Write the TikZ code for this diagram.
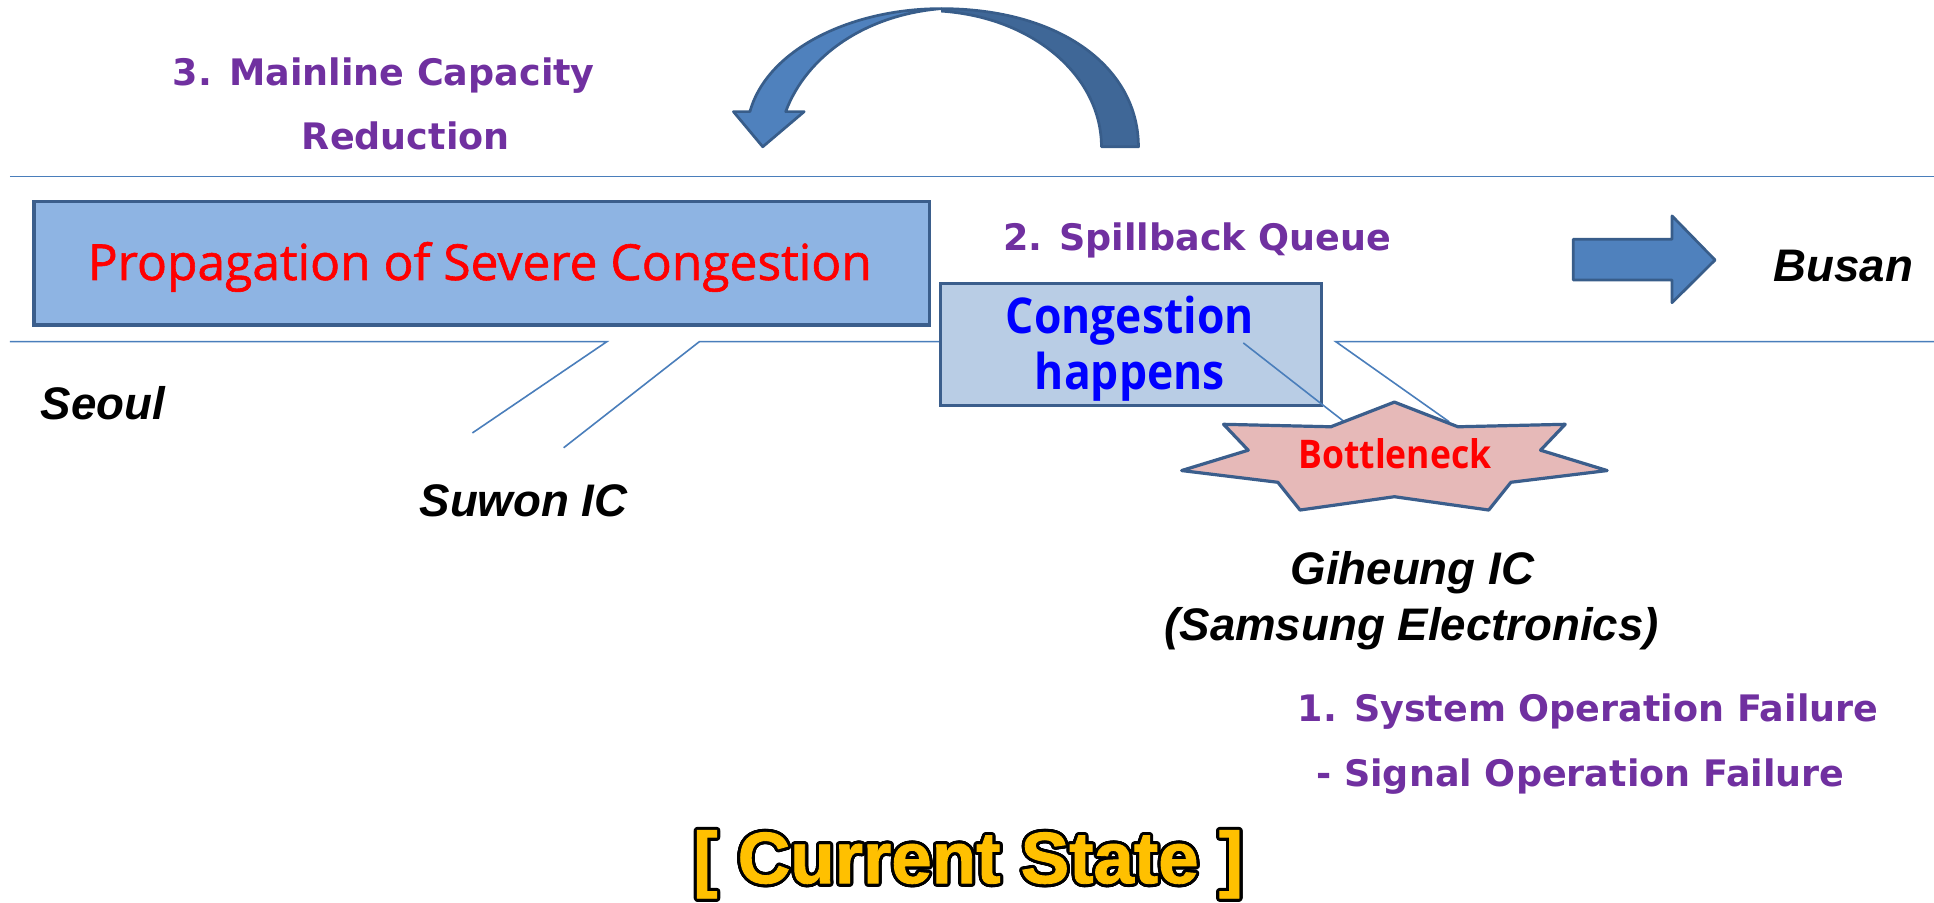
\documentclass[tikz,border=0pt]{standalone}
\usepackage{fontspec}
\setmainfont{Liberation Sans}
\newfontfamily\mgR[FakeBold=1.2]{Open Sans}
\newfontfamily\mgB[FakeStretch=0.9]{Open Sans}
\newfontfamily\thB{DejaVu Sans}
\newfontfamily\arB{Liberation Sans}
\newfontfamily\arH[FakeBold=1.2]{Liberation Sans}
\definecolor{roadblue}{HTML}{4A7EBB}
\definecolor{boxborder}{HTML}{3B5E8C}
\definecolor{propfill}{HTML}{8EB4E3}
\definecolor{congfill}{HTML}{B9CDE5}
\definecolor{starfill}{HTML}{E6B9B8}
\definecolor{lblpurple}{HTML}{7030A0}
\definecolor{gold}{HTML}{FFC000}
\definecolor{arrowlight}{HTML}{4F81BD}
\definecolor{arrowdark}{HTML}{3F6797}
\definecolor{arrowedge}{HTML}{385D8A}
\begin{document}
\begin{tikzpicture}[x=1pt,y=-1pt,
  road/.style={draw=roadblue,line width=1.3pt},
  boxstyle/.style={draw=boxborder,line width=2.8pt,rectangle,inner sep=0pt,anchor=north west},
  purplelbl/.style={text=lblpurple,font=\thB\bfseries\fontsize{29.6}{36}\selectfont,inner sep=0pt,anchor=base west},
  placelbl/.style={text=black,font=\arB\bfseries\itshape\fontsize{37}{44}\selectfont,inner sep=0pt},
  blockarrow/.style={draw=arrowedge,line width=2.2pt,line join=round},
  titlestyle/.style={font=\arH\bfseries\fontsize{59}{66}\selectfont,inner sep=0pt,anchor=base},
]
\useasboundingbox (0,0) rectangle (1568,732);

% road edges
\draw[road] (8,143) -- (1568,143);
\draw[road] (8,277) -- (492,277) -- (383,351);
\draw[road] (457,363) -- (567,277) -- (1010,277);
\draw[road] (1175,342) -- (1083,277) -- (1568,277);

% curved arrow
\fill[arrowdark] (763,7) .. controls (860,7) and (923,55) .. (923,119) -- (893,119) .. controls (893,62) and (838,14) .. (763,9) -- cycle;
\draw[blockarrow] (763,7) .. controls (860,7) and (923,55) .. (923,119) -- (893,119) .. controls (893,62) and (838,14) .. (763,9);
\draw[blockarrow,fill=arrowlight] (608,90.5) .. controls (622,40) and (690,7) .. (763,7) .. controls (702,12) and (654,45) .. (637,90.5) -- (652,90.5) -- (618.4,119) -- (594.6,90.5) -- cycle;

% boxes
\node[boxstyle,fill=propfill,minimum width=726pt,minimum height=100pt] (prop) at (26,162) {};
\node[text=red,font=\mgR\fontsize{40.3}{48}\selectfont,inner sep=0pt,anchor=base] (proptext) at (389,227) {Propagation of Severe Congestion};

\node[boxstyle,fill=congfill,minimum width=309pt,minimum height=99pt] (cong) at (761,228.5) {};
\node[text=blue,font=\mgB\bfseries\fontsize{40}{46}\selectfont,inner sep=0pt,anchor=base] (congA) at (916,270) {Congestion};
\node[text=blue,font=\mgB\bfseries\fontsize{40}{46}\selectfont,inner sep=0pt,anchor=base] (congB) at (916,315.5) {happens};

\draw[road] (1008,278) -- (1090,342);

% bottleneck star
\draw[draw=boxborder,line width=2.6pt,line join=round,fill=starfill]
  (1130.5,326) -- (1182,346) -- (1269,344) -- (1249,365) -- (1303,381.5) -- (1225,391)
  -- (1207,413.5) -- (1130.5,402.7) -- (1054,413.5) -- (1036,391) -- (958,381.5)
  -- (1012,365) -- (992,344) -- (1079,346) -- cycle;
\node[text=red,font=\mgB\bfseries\fontsize{32}{38}\selectfont,inner sep=0pt,anchor=base] (bn) at (1131,379.7) {Bottleneck};

% right block arrow
\draw[blockarrow,fill=arrowlight] (1275.5,194) -- (1355.6,194) -- (1355.6,175) -- (1390.5,210.8)
  -- (1355.6,245.4) -- (1355.6,227) -- (1275.5,227) -- cycle;

% place labels
\node[placelbl,anchor=base west] (seoul) at (33,340) {Seoul};
\node[placelbl,anchor=base west] (suwon) at (340,419) {Suwon IC};
\node[placelbl,anchor=base west] (busan) at (1437.6,228.4) {Busan};
\node[placelbl,anchor=base] (giheung) at (1145,474) {Giheung IC};
\node[placelbl,anchor=base] (samsung) at (1144.5,519) {(Samsung Electronics)};

% purple labels
\node[purplelbl] (l3a) at (140,69.7) {3. Mainline Capacity};
\node[purplelbl] (l3b) at (244.6,121.6) {Reduction};
\node[purplelbl] (l2) at (813,202.7) {2. Spillback Queue};
\node[purplelbl] (l1a) at (1052,584.6) {1. System Operation Failure};
\node[purplelbl] (l1b) at (1067,637.8) {- Signal Operation Failure};

% title with outline
\foreach \ang in {0,15,...,345}
  \node[titlestyle,text=black,xshift={2.5*cos(\ang)},yshift={2.5*sin(\ang)}] at (785,716) {[ Current State ]};
\node[titlestyle,text=gold] (title) at (785,716) {[ Current State ]};
\end{tikzpicture}
\end{document}
